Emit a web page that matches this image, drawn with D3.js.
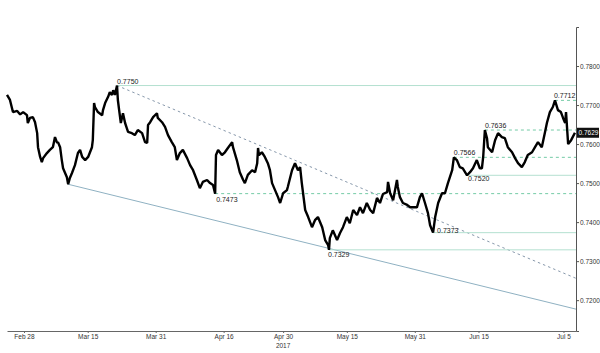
<!DOCTYPE html>
<html>
<head>
<meta charset="utf-8">
<script src="https://cdn.jsdelivr.net/npm/d3@7"></script>
<style>
  body { margin: 0; background: #fff; }
  svg { display: block; font-family: "Liberation Sans", Arial, sans-serif; }
</style>
</head>
<body>
<script>
// price series: days after Feb 24 2017, and the rate
var start = new Date(2017, 1, 24);
var days = [0, 0.7, 1.4, 2.4, 3.1, 3.8, 4.7, 4.9, 5.4, 6.1, 6.6, 7.1, 7.3, 7.8, 8.2, 8.5, 9.4, 10.1, 10.8, 11.3,
  11.8, 12.0, 12.5, 12.9, 13.2, 14.1, 14.4, 14.8, 15.3, 16.0, 16.7, 17.2, 17.7, 18.4, 19.1, 20.0, 20.2, 20.5, 20.7, 21.4,
  22.4, 22.6, 23.1, 23.8, 24.2, 24.7, 25.0, 25.4, 25.9, 26.1, 26.4, 26.8, 27.3, 27.8, 28.2, 28.5, 29.4, 30.1, 30.8, 31.8,
  32.5, 33.0, 33.2, 33.7, 34.4, 35.3, 35.5, 36.5, 37.2, 37.9, 38.8, 39.5, 40.0, 40.7, 41.4, 42.4, 43.1, 43.8, 44.7, 45.4,
  46.1, 47.1, 47.8, 48.5, 49.0, 49.2, 49.7, 50.6, 51.3, 52.0, 53.0, 53.2, 54.1, 54.8, 55.6, 56.0, 56.7, 57.7, 58.4, 58.9,
  59.1, 59.3, 60.0, 60.7, 61.4, 61.9, 62.4, 63.1, 63.8, 64.3, 65.0, 65.9, 66.1, 67.1, 67.8, 68.5, 69.0, 69.4, 70.2, 70.9,
  71.8, 72.5, 73.2, 74.2, 74.9, 75.6, 75.8, 76.0, 76.7, 77.7, 78.4, 79.1, 80.0, 80.7, 81.5, 82.4, 83.1, 83.8, 84.7, 85.5,
  86.2, 87.1, 87.8, 88.5, 89.5, 89.7, 90.2, 90.9, 91.8, 92.0, 92.5, 93.2, 94.2, 94.9, 95.6, 96.5, 97.2, 97.7, 98.4, 99.1,
  99.6, 100.3, 100.8, 101.5, 102.4, 103.1, 103.8, 104.8, 105.2, 105.9, 106.6, 107.3, 108.3, 109.0, 109.7, 110.6, 111.3, 111.8, 112.1, 112.5,
  113.0, 113.2, 114.2, 114.9, 115.6, 116.5, 117.2, 117.9, 118.9, 119.6, 120.3, 121.2, 121.9, 122.6, 123.6, 124.3, 125.0, 125.9, 126.6, 127.1,
  127.8, 128.5, 129.0, 129.7, 130.4, 130.9, 131.4, 131.6, 132.1, 132.8, 133.7];
var rates = [0.7726, 0.7713, 0.7682, 0.7685, 0.7676, 0.7682, 0.7674, 0.7654, 0.7667, 0.7669, 0.7656, 0.7628, 0.7592, 0.7567, 0.7554, 0.7564, 0.7577, 0.7585, 0.7592, 0.7618,
  0.7603, 0.7605, 0.7592, 0.7559, 0.7538, 0.7515, 0.7497, 0.7513, 0.7526, 0.7546, 0.7577, 0.7585, 0.7567, 0.7559, 0.7567, 0.7592, 0.7610, 0.7705, 0.7695, 0.7682,
  0.7674, 0.7687, 0.7705, 0.7721, 0.7733, 0.7726, 0.7738, 0.7726, 0.7750, 0.7713, 0.7687, 0.7654, 0.7679, 0.7654, 0.7641, 0.7631, 0.7628, 0.7623, 0.7636, 0.7628,
  0.7605, 0.7603, 0.7649, 0.7656, 0.7669, 0.7679, 0.7667, 0.7656, 0.7644, 0.7623, 0.7605, 0.7592, 0.7559, 0.7577, 0.7585, 0.7564, 0.7546, 0.7533, 0.7508, 0.7487,
  0.7503, 0.7508, 0.7500, 0.7495, 0.7473, 0.7572, 0.7585, 0.7572, 0.7579, 0.7590, 0.7605, 0.7592, 0.7559, 0.7528, 0.7508, 0.7500, 0.7521, 0.7533, 0.7528, 0.7551,
  0.7590, 0.7572, 0.7579, 0.7567, 0.7551, 0.7533, 0.7500, 0.7482, 0.7464, 0.7449, 0.7474, 0.7482, 0.7490, 0.7533, 0.7551, 0.7533, 0.7541, 0.7500, 0.7431, 0.7413,
  0.7387, 0.7405, 0.7413, 0.7387, 0.7354, 0.7341, 0.7329, 0.7359, 0.7379, 0.7354, 0.7372, 0.7387, 0.7413, 0.7397, 0.7431, 0.7418, 0.7438, 0.7423, 0.7449, 0.7431,
  0.7423, 0.7462, 0.7449, 0.7472, 0.7477, 0.7503, 0.7474, 0.7456, 0.7508, 0.7490, 0.7464, 0.7449, 0.7444, 0.7438, 0.7438, 0.7438, 0.7464, 0.7474, 0.7449, 0.7423,
  0.7392, 0.7373, 0.7413, 0.7449, 0.7474, 0.7474, 0.7500, 0.7533, 0.7566, 0.7559, 0.7541, 0.7538, 0.7520, 0.7528, 0.7538, 0.7559, 0.7538, 0.7538, 0.7567, 0.7636,
  0.7615, 0.7592, 0.7579, 0.7610, 0.7628, 0.7618, 0.7615, 0.7592, 0.7579, 0.7564, 0.7551, 0.7541, 0.7554, 0.7572, 0.7579, 0.7592, 0.7605, 0.7592, 0.7628, 0.7654,
  0.7682, 0.7695, 0.7712, 0.7687, 0.7682, 0.7667, 0.7654, 0.7682, 0.7600, 0.7610, 0.7629];

// support / resistance levels: value, day the level starts, dashed or not
var levelValues = [0.7750, 0.7712, 0.7636, 0.7566, 0.7520, 0.7473, 0.7373, 0.7329];
var levelFrom   = [25.9, 129.0, 112.5, 105.2, 108.3, 49.0, 100.3, 75.8];
var levelDashed = [false, true, true, true, false, true, false, false];
// label offsets (dx, dy)
var levelLabelPos = [[0, -2], [-1, -2], [0, -2], [0, -2], [1, 6], [1, 8], [4, 0], [-1, 7]];

// trend channel: [day, rate] pairs
var upperTrend = [[25.9, 0.7750], [133.95, 0.7256]];
var lowerTrend = [[14.4, 0.7497], [133.95, 0.7177]];

var yTicks = [0.72, 0.73, 0.74, 0.75, 0.76, 0.77, 0.78];
var xTickDates = ["2017-02-28", "2017-03-15", "2017-03-31", "2017-04-16", "2017-04-30", "2017-05-15", "2017-05-31", "2017-06-15", "2017-07-05"];
var lastRate = 0.7629;

var width = 600, height = 353;
var svg = d3.select("body").append("svg")
  .attr("width", width)
  .attr("height", height);

var toDate = function(d){ return d3.timeMinute.offset(start, Math.round(d * 1440)); };

var x = d3.scaleTime()
  .domain([start, toDate(133.95)])
  .range([7, 576]);
var y = d3.scaleLinear()
  .domain([0.7121, 0.79])
  .range([331, 27]);

var series = days.map(function(d, i){ return {t: toDate(d), v: rates[i]}; });

// trend channel
var trendLine = d3.line()
  .x(function(d){ return x(toDate(d[0])); })
  .y(function(d){ return y(d[1]); });
svg.append("path").attr("d", trendLine(upperTrend))
  .attr("fill", "none").attr("stroke", "#8798ab").attr("stroke-width", 1)
  .attr("stroke-dasharray", "2.5,3");
svg.append("path").attr("d", trendLine(lowerTrend))
  .attr("fill", "none").attr("stroke", "#8fb1c2").attr("stroke-width", 1);

// horizontal levels
levelValues.forEach(function(v, i){
  svg.append("line")
    .attr("x1", x(toDate(levelFrom[i]))).attr("x2", x.range()[1])
    .attr("y1", y(v)).attr("y2", y(v))
    .attr("stroke", levelDashed[i] ? "#74cba6" : "#b4e0d0")
    .attr("stroke-width", 1)
    .attr("stroke-dasharray", levelDashed[i] ? "3,3" : null);
});

// price
var line = d3.line()
  .x(function(d){ return x(d.t); })
  .y(function(d){ return y(d.v); });
svg.append("path").datum(series)
  .attr("d", line)
  .attr("fill", "none")
  .attr("stroke", "#000")
  .attr("stroke-width", 2.4)
  .attr("stroke-linejoin", "bevel");

// level labels
levelValues.forEach(function(v, i){
  svg.append("text")
    .attr("x", x(toDate(levelFrom[i])) + levelLabelPos[i][0])
    .attr("y", y(v) + levelLabelPos[i][1])
    .attr("font-size", 7)
    .attr("fill", "#222")
    .text(v.toFixed(4));
});

// right axis
var yAxis = d3.axisRight(y).tickValues(yTicks).tickSize(3).tickSizeOuter(3)
  .tickFormat(d3.format(".4f"));
var gy = svg.append("g").attr("transform", "translate(576,0)").call(yAxis);
gy.selectAll("text").attr("font-size", 6.5).attr("fill", "#333").attr("x", 4);
gy.selectAll("path, line").attr("stroke", "#555");

// last price tag
svg.append("rect").attr("x", 577).attr("y", y(lastRate) - 5).attr("width", 22).attr("height", 10).attr("fill", "#111");
svg.append("text").attr("x", 578.5).attr("y", y(lastRate) + 2.5)
  .attr("font-size", 6.5).attr("fill", "#fff").text(lastRate.toFixed(4));

// bottom axis
var parse = d3.timeParse("%Y-%m-%d");
var xAxis = d3.axisBottom(x).tickValues(xTickDates.map(parse)).tickSize(2).tickSizeOuter(0)
  .tickFormat(d3.timeFormat("%b %-d"));
var gx = svg.append("g").attr("transform", "translate(0,331)").call(xAxis);
gx.selectAll("text").attr("font-size", 6.5).attr("fill", "#333").attr("y", 3).attr("dy", "0.71em");
gx.selectAll("path, line").attr("stroke", "#666");
svg.append("text").attr("x", x(parse("2017-04-30"))).attr("y", 348)
  .attr("text-anchor", "middle").attr("font-size", 6.5).attr("fill", "#333").text("2017");
</script>
</body>
</html>
